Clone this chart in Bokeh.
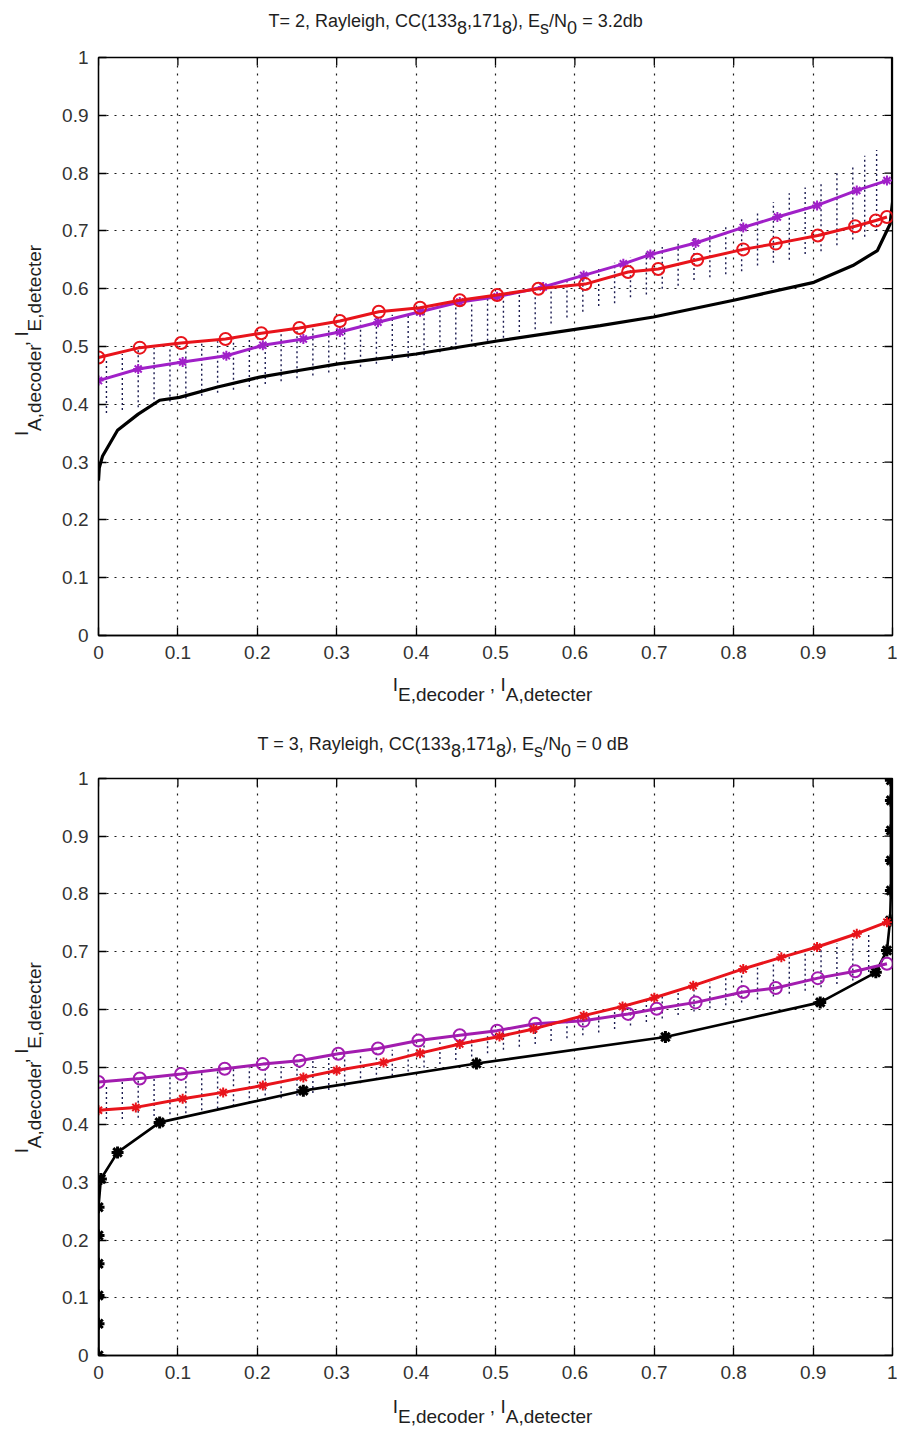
from bokeh.plotting import figure
from bokeh.models import FixedTicker, NumeralTickFormatter, Range1d
from bokeh.layouts import column, row
from bokeh.core.properties import value
from bokeh.embed import file_html
from bokeh.resources import INLINE
import math

# ---------------- data ----------------
tick_values = [0, 0.1, 0.2, 0.3, 0.4, 0.5, 0.6, 0.7, 0.8, 0.9, 1.0]

# Top panel: T=2, Es/N0 = 3.2 dB
top_dec_x = [0.0, 0.052, 0.104, 0.16, 0.205, 0.253, 0.304, 0.353, 0.405, 0.455, 0.502,
             0.554, 0.613, 0.667, 0.705, 0.754, 0.812, 0.853, 0.906, 0.953, 0.979, 0.993]
top_dec_y = [0.481, 0.498, 0.506, 0.513, 0.523, 0.532, 0.544, 0.56, 0.567, 0.58, 0.589,
             0.6, 0.608, 0.629, 0.634, 0.65, 0.668, 0.678, 0.692, 0.708, 0.718, 0.724]
top_det_x = [0.0, 0.05, 0.106, 0.161, 0.207, 0.258, 0.304, 0.352, 0.405, 0.455, 0.502,
             0.56, 0.611, 0.661, 0.695, 0.752, 0.812, 0.855, 0.905, 0.955, 0.993]
top_det_y = [0.441, 0.461, 0.473, 0.484, 0.502, 0.513, 0.525, 0.542, 0.56, 0.577, 0.586,
             0.603, 0.623, 0.643, 0.659, 0.679, 0.706, 0.724, 0.744, 0.77, 0.787]
top_blk_x = [0.0, 0.001, 0.005, 0.024, 0.05, 0.077, 0.102, 0.15, 0.203, 0.25, 0.302, 0.4,
             0.504, 0.632, 0.699, 0.8, 0.901, 0.95, 0.981, 0.997, 1.0, 1.0]
top_blk_y = [0.268, 0.29, 0.31, 0.355, 0.383, 0.407, 0.412, 0.43, 0.447, 0.458, 0.47, 0.487,
             0.51, 0.536, 0.551, 0.58, 0.611, 0.64, 0.666, 0.712, 0.75, 1.0]
top_traj_x = [0.01, 0.03, 0.05, 0.07, 0.09, 0.11, 0.13, 0.15, 0.17, 0.19, 0.21, 0.23, 0.25,
              0.27, 0.29, 0.31, 0.33, 0.35, 0.37, 0.39, 0.41, 0.43, 0.45, 0.47, 0.49, 0.51,
              0.53, 0.55, 0.57, 0.59, 0.61, 0.63, 0.65, 0.67, 0.69, 0.71, 0.73, 0.75, 0.77,
              0.79, 0.81, 0.83, 0.85, 0.87, 0.89, 0.91, 0.93, 0.95, 0.965, 0.98]
top_traj_lo = [0.385, 0.39, 0.395, 0.40, 0.405, 0.41, 0.415, 0.42, 0.425, 0.43, 0.435, 0.44,
               0.445, 0.45, 0.455, 0.46, 0.465, 0.47, 0.475, 0.48, 0.485, 0.49, 0.495, 0.50,
               0.51, 0.515, 0.525, 0.53, 0.54, 0.55, 0.56, 0.57, 0.575, 0.585, 0.59, 0.60,
               0.605, 0.615, 0.62, 0.625, 0.63, 0.64, 0.645, 0.65, 0.66, 0.665, 0.675, 0.685,
               0.69, 0.70]
top_traj_hi = [0.48, 0.487, 0.494, 0.498, 0.50, 0.503, 0.506, 0.509, 0.512, 0.516, 0.52, 0.523,
               0.527, 0.531, 0.535, 0.539, 0.545, 0.55, 0.555, 0.557, 0.561, 0.566, 0.572,
               0.577, 0.582, 0.587, 0.592, 0.60, 0.605, 0.615, 0.625, 0.635, 0.645, 0.655,
               0.665, 0.672, 0.68, 0.69, 0.70, 0.71, 0.72, 0.735, 0.75, 0.765, 0.775, 0.785,
               0.80, 0.815, 0.83, 0.84]

# Bottom panel: T=3, Es/N0 = 0 dB
bot_dec_x = [0.0, 0.052, 0.104, 0.159, 0.207, 0.253, 0.302, 0.352, 0.403, 0.455, 0.502,
             0.55, 0.611, 0.667, 0.703, 0.752, 0.812, 0.853, 0.906, 0.953, 0.993]
bot_dec_y = [0.474, 0.48, 0.488, 0.497, 0.505, 0.511, 0.523, 0.532, 0.546, 0.555, 0.563,
             0.575, 0.58, 0.592, 0.601, 0.612, 0.63, 0.637, 0.654, 0.666, 0.679]
bot_det_x = [0.0, 0.047, 0.106, 0.157, 0.207, 0.258, 0.3, 0.359, 0.405, 0.455, 0.505,
             0.548, 0.611, 0.66, 0.70, 0.749, 0.812, 0.86, 0.905, 0.955, 0.993]
bot_det_y = [0.425, 0.43, 0.445, 0.456, 0.468, 0.482, 0.494, 0.508, 0.524, 0.54, 0.553,
             0.566, 0.589, 0.605, 0.62, 0.641, 0.67, 0.69, 0.708, 0.731, 0.751]
bot_blk_x = [0.0, 0.0, 0.0, 0.0, 0.0, 0.0, 0.003, 0.024, 0.077, 0.258, 0.476, 0.714, 0.909,
             0.979, 0.993, 0.997, 0.998, 0.998, 0.998, 0.998, 0.998]
bot_blk_y = [0.0, 0.055, 0.104, 0.159, 0.208, 0.257, 0.306, 0.352, 0.404, 0.459, 0.506, 0.552,
             0.612, 0.664, 0.702, 0.754, 0.806, 0.858, 0.91, 0.962, 0.997]
bot_traj_x = [0.01, 0.03, 0.05, 0.07, 0.09, 0.11, 0.13, 0.15, 0.17, 0.19, 0.21, 0.23, 0.25,
              0.27, 0.29, 0.31, 0.33, 0.35, 0.37, 0.39, 0.41, 0.43, 0.45, 0.47, 0.49, 0.51,
              0.53, 0.55, 0.57, 0.59, 0.61, 0.63, 0.65, 0.67, 0.69, 0.71, 0.73, 0.75, 0.77,
              0.79, 0.81, 0.83, 0.85, 0.87, 0.89, 0.91, 0.93, 0.95, 0.97]
bot_traj_lo = [0.41, 0.41, 0.412, 0.415, 0.418, 0.42, 0.425, 0.428, 0.432, 0.437, 0.442,
               0.446, 0.45, 0.455, 0.46, 0.466, 0.472, 0.478, 0.485, 0.492, 0.499, 0.505,
               0.512, 0.518, 0.524, 0.53, 0.535, 0.54, 0.545, 0.55, 0.555, 0.56, 0.566,
               0.572, 0.578, 0.584, 0.59, 0.596, 0.602, 0.607, 0.612, 0.617, 0.622, 0.627,
               0.632, 0.638, 0.644, 0.65, 0.656]
bot_traj_hi = [0.47, 0.474, 0.477, 0.48, 0.483, 0.486, 0.49, 0.493, 0.496, 0.499, 0.503,
               0.506, 0.509, 0.512, 0.516, 0.52, 0.523, 0.526, 0.53, 0.534, 0.538, 0.543,
               0.548, 0.552, 0.556, 0.56, 0.565, 0.57, 0.575, 0.58, 0.587, 0.595, 0.602,
               0.609, 0.616, 0.622, 0.63, 0.638, 0.646, 0.655, 0.664, 0.672, 0.68, 0.69,
               0.697, 0.705, 0.714, 0.722, 0.732]

# ---------------- text helpers ----------------
FONT = "Liberation Sans"
TXT = "#1e1e1e"
ARIAL = {' ': 278, ',': 278, '.': 278, '(': 333, ')': 333, '=': 584, '/': 278,
         'T': 611, 'R': 722, 'C': 722, 'E': 667, 'N': 722, 'A': 667, 'I': 278, 'B': 667,
         'a': 556, 'y': 500, 'l': 222, 'e': 556, 'i': 222, 'g': 556, 'h': 556, 'd': 556,
         'b': 556, 's': 500, 'c': 500, 'o': 556, 'r': 333, 't': 278}


def tw(s, size):
    return sum(ARIAL.get(c, 556) for c in s) * size / 1000.0


def rich(f, pieces, x, y, sub_shift, size, vertical=False, align="left"):
    """Lay out (text, is_subscript) pieces as text glyphs; (x, y) is the visual centre line."""
    total = sum(tw(t, size) for t, _ in pieces)
    pos = -total / 2.0 if align == "center" else 0.0
    xs, ys, ts = [], [], []
    for t, sub in pieces:
        s = sub_shift if sub else 0
        lead = len(t) - len(t.lstrip(" "))
        start = pos + tw(" " * lead, size)
        if vertical:
            xs.append(x + s)
            ys.append(y + start)
        else:
            xs.append(x + start)
            ys.append(y - s)
        ts.append(t.strip(" "))
        pos += tw(t, size)
    f.text(x=xs, y=ys, text=ts, angle=(math.pi / 2 if vertical else 0.0),
           text_font=value(FONT), text_font_size=value(f"{size}px"), text_color=TXT,
           text_baseline="middle", text_align="left")


def text_fig(w, h):
    f = figure(width=w, height=h, x_range=Range1d(0, w), y_range=Range1d(0, h),
               x_axis_type=None, y_axis_type=None, output_backend="svg",
               toolbar_location=None, min_border=0)
    f.outline_line_color = None
    f.grid.visible = False
    return f


def style_axis(ax):
    ax.ticker = FixedTicker(ticks=tick_values)
    ax.formatter = NumeralTickFormatter(format="0.[0]")
    ax.major_tick_in = 8
    ax.major_tick_out = 0
    ax.minor_tick_in = 0
    ax.minor_tick_out = 0
    ax.axis_line_color = "black"
    ax.axis_line_width = 1.3
    ax.major_tick_line_color = "black"
    ax.major_tick_line_width = 1.3
    ax.major_label_text_font = FONT
    ax.major_label_text_font_size = "19px"
    ax.major_label_text_color = "#333333"
    ax.major_label_standoff = 10


def make_fig(width, height):
    p = figure(width=width, height=height, x_range=Range1d(0, 1), y_range=Range1d(0, 1),
               output_backend="svg", toolbar_location=None,
               min_border_left=50, min_border_right=5, min_border_top=12,
               min_border_bottom=36)
    p.outline_line_color = "black"
    p.outline_line_width = 1.3
    style_axis(p.xaxis[0])
    style_axis(p.yaxis[0])
    for g in (p.xgrid[0], p.ygrid[0]):
        g.ticker = FixedTicker(ticks=tick_values)
        g.grid_line_color = "black"
        g.grid_line_dash = "2 6"
        g.grid_line_width = 1.2
        g.grid_line_alpha = 0.9
    # inward tick marks on the top and right edges of the box
    p.ray(x=tick_values, y=1.0, length=8, length_units="screen", angle=-math.pi / 2,
          line_color="black", line_width=1.3)
    p.ray(x=1.0, y=tick_values, length=8, length_units="screen", angle=math.pi,
          line_color="black", line_width=1.3)
    return p


def traj(p, xs, lo, hi):
    p.multi_line([[x, x] for x in xs], [[a, b] for a, b in zip(lo, hi)],
                 line_color="#1a1a50", line_dash="2 3", line_width=1.4)


XL = [("I", False), ("E,decoder", True), (" , ", False), ("I", False), ("A,detecter", True)]
YL = [("I", False), ("A,decoder", True), (" , ", False), ("I", False), ("E,detecter", True)]
TITLE1 = [("T= 2, Rayleigh, CC(133", False), ("8", True), (",171", False), ("8", True),
          ("), E", False), ("s", True), ("/N", False), ("0", True), (" = 3.2db", False)]
TITLE2 = [("T = 3, Rayleigh, CC(133", False), ("8", True), (",171", False), ("8", True),
          ("), E", False), ("s", True), ("/N", False), ("0", True), (" = 0 dB", False)]

W = 897
YLW = 48
PW = W - YLW
TS = 18   # title size
LS = 19   # axis label size

# ---------------- top panel ----------------
title1 = text_fig(W, 45)
rich(title1, TITLE1, 268, 25, 7, TS)

p1 = make_fig(PW, 626)
traj(p1, top_traj_x, top_traj_lo, top_traj_hi)
p1.line(top_blk_x, top_blk_y, line_color="black", line_width=3.2)
p1.line(top_det_x, top_det_y, line_color="#a020c8", line_width=3)
p1.scatter(top_det_x, top_det_y, marker="asterisk", size=10, line_color="#a020c8", line_width=2)
p1.line(top_dec_x, top_dec_y, line_color="#e8141b", line_width=3)
p1.scatter(top_dec_x, top_dec_y, marker="circle", size=12, line_color="#e8141b",
           fill_color=None, line_width=2)

ylab1 = text_fig(YLW, 626)
rich(ylab1, YL, 21, 316, 13, LS, vertical=True, align="center")

# x label of the top panel + title of the bottom panel
mid = text_fig(W, 95)
rich(mid, XL, 492, 82, 10, LS, align="center")
rich(mid, TITLE2, 257, 23, 7, TS)

# ---------------- bottom panel ----------------
p2 = make_fig(PW, 625)
traj(p2, bot_traj_x, bot_traj_lo, bot_traj_hi)
p2.line(bot_blk_x, bot_blk_y, line_color="black", line_width=2.6)
p2.scatter(bot_blk_x, bot_blk_y, marker="asterisk", size=12, line_color="black", line_width=3)
p2.line(bot_dec_x, bot_dec_y, line_color="#a21caf", line_width=3)
p2.scatter(bot_dec_x, bot_dec_y, marker="circle", size=12, line_color="#a21caf",
           fill_color=None, line_width=2)
p2.line(bot_det_x, bot_det_y, line_color="#e8141b", line_width=3)
p2.scatter(bot_det_x, bot_det_y, marker="asterisk", size=10, line_color="#e8141b", line_width=2)

ylab2 = text_fig(YLW, 625)
rich(ylab2, YL, 21, 319, 13, LS, vertical=True, align="center")

xlab2 = text_fig(W, 43)
rich(xlab2, XL, 492, 28, 10, LS, align="center")

layout = column(title1, row(ylab1, p1), mid, row(ylab2, p2), xlab2)
open("out.html", "w").write(file_html(layout, INLINE))
